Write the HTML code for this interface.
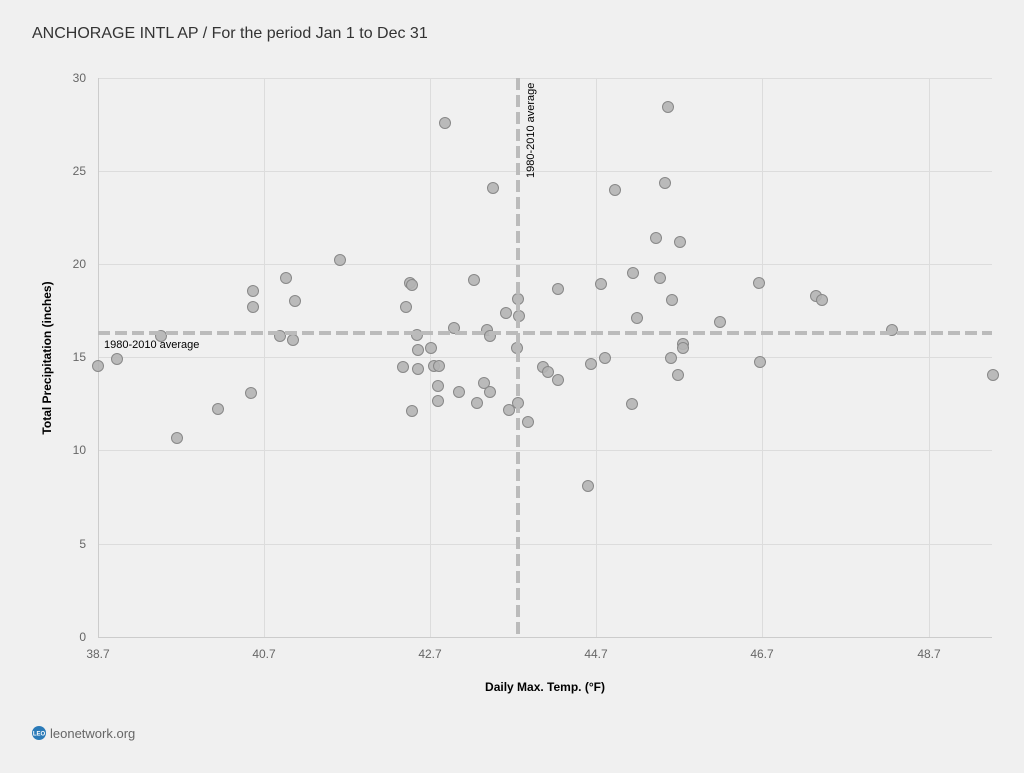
<!DOCTYPE html>
<html><head><meta charset="utf-8"><style>
body{margin:0;width:1024px;height:768px;background:#f0f0f0;font-family:"Liberation Sans",sans-serif;overflow:hidden}
</style></head><body>
<svg width="1024" height="768" xmlns="http://www.w3.org/2000/svg" font-family="Liberation Sans, sans-serif">
<rect width="1024" height="768" fill="#f0f0f0"/>
<text x="32" y="38" font-size="16" fill="#333">ANCHORAGE INTL AP / For the period Jan 1 to Dec 31</text>
<g stroke="#dcdcdc" stroke-width="1">
<line x1="98" y1="78.5" x2="992" y2="78.5"/>
<line x1="98" y1="171.5" x2="992" y2="171.5"/>
<line x1="98" y1="264.5" x2="992" y2="264.5"/>
<line x1="98" y1="357.5" x2="992" y2="357.5"/>
<line x1="98" y1="450.5" x2="992" y2="450.5"/>
<line x1="98" y1="544.5" x2="992" y2="544.5"/>
<line x1="264.5" y1="78" x2="264.5" y2="637"/>
<line x1="430.5" y1="78" x2="430.5" y2="637"/>
<line x1="596.5" y1="78" x2="596.5" y2="637"/>
<line x1="762.5" y1="78" x2="762.5" y2="637"/>
<line x1="929.5" y1="78" x2="929.5" y2="637"/>
</g>
<line x1="98" y1="637.5" x2="992" y2="637.5" stroke="#ccc"/>
<line x1="98.5" y1="78" x2="98.5" y2="637" stroke="#ccc"/>
<g font-size="12" fill="#666" text-anchor="end">
<text x="86" y="82">30</text><text x="86" y="175">25</text><text x="86" y="268">20</text><text x="86" y="361">15</text><text x="86" y="454">10</text><text x="86" y="548">5</text><text x="86" y="641">0</text>
</g>
<g font-size="12" fill="#666" text-anchor="middle">
<text x="98" y="658">38.7</text><text x="264" y="658">40.7</text><text x="430" y="658">42.7</text><text x="596" y="658">44.7</text><text x="762" y="658">46.7</text><text x="929" y="658">48.7</text>
</g>
<text x="545" y="691" font-size="12" font-weight="bold" text-anchor="middle" fill="#000">Daily Max. Temp. (°F)</text>
<text transform="translate(51,358) rotate(-90)" font-size="12" font-weight="bold" text-anchor="middle" fill="#000">Total Precipitation (inches)</text>
<g fill="#b4b4b4" fill-opacity="0.9" stroke="#888" stroke-width="1">
<circle cx="98" cy="366" r="5.5"/><circle cx="117" cy="359" r="5.5"/><circle cx="161" cy="336" r="5.5"/><circle cx="177" cy="438" r="5.5"/><circle cx="218" cy="409" r="5.5"/><circle cx="251" cy="393" r="5.5"/><circle cx="253" cy="291" r="5.5"/><circle cx="253" cy="307" r="5.5"/><circle cx="280" cy="336" r="5.5"/><circle cx="286" cy="278" r="5.5"/><circle cx="293" cy="340" r="5.5"/><circle cx="295" cy="301" r="5.5"/><circle cx="340" cy="260" r="5.5"/><circle cx="406" cy="307" r="5.5"/><circle cx="403" cy="367" r="5.5"/><circle cx="410" cy="283" r="5.5"/><circle cx="412" cy="285" r="5.5"/><circle cx="412" cy="411" r="5.5"/><circle cx="417" cy="335" r="5.5"/><circle cx="418" cy="350" r="5.5"/><circle cx="418" cy="369" r="5.5"/><circle cx="431" cy="348" r="5.5"/><circle cx="434" cy="366" r="5.5"/><circle cx="439" cy="366" r="5.5"/><circle cx="438" cy="386" r="5.5"/><circle cx="438" cy="401" r="5.5"/><circle cx="445" cy="123" r="5.5"/><circle cx="454" cy="328" r="5.5"/><circle cx="459" cy="392" r="5.5"/><circle cx="474" cy="280" r="5.5"/><circle cx="477" cy="403" r="5.5"/><circle cx="484" cy="383" r="5.5"/><circle cx="487" cy="330" r="5.5"/><circle cx="490" cy="336" r="5.5"/><circle cx="490" cy="392" r="5.5"/><circle cx="493" cy="188" r="5.5"/><circle cx="506" cy="313" r="5.5"/><circle cx="509" cy="410" r="5.5"/><circle cx="517" cy="348" r="5.5"/><circle cx="518" cy="299" r="5.5"/><circle cx="519" cy="316" r="5.5"/><circle cx="518" cy="403" r="5.5"/><circle cx="528" cy="422" r="5.5"/><circle cx="543" cy="367" r="5.5"/><circle cx="548" cy="372" r="5.5"/><circle cx="558" cy="289" r="5.5"/><circle cx="558" cy="380" r="5.5"/><circle cx="588" cy="486" r="5.5"/><circle cx="591" cy="364" r="5.5"/><circle cx="601" cy="284" r="5.5"/><circle cx="605" cy="358" r="5.5"/><circle cx="615" cy="190" r="5.5"/><circle cx="632" cy="404" r="5.5"/><circle cx="633" cy="273" r="5.5"/><circle cx="637" cy="318" r="5.5"/><circle cx="656" cy="238" r="5.5"/><circle cx="660" cy="278" r="5.5"/><circle cx="665" cy="183" r="5.5"/><circle cx="668" cy="107" r="5.5"/><circle cx="671" cy="358" r="5.5"/><circle cx="672" cy="300" r="5.5"/><circle cx="678" cy="375" r="5.5"/><circle cx="680" cy="242" r="5.5"/><circle cx="683" cy="344" r="5.5"/><circle cx="683" cy="348" r="5.5"/><circle cx="720" cy="322" r="5.5"/><circle cx="759" cy="283" r="5.5"/><circle cx="760" cy="362" r="5.5"/><circle cx="816" cy="296" r="5.5"/><circle cx="822" cy="300" r="5.5"/><circle cx="892" cy="330" r="5.5"/><circle cx="993" cy="375" r="5.5"/>
</g>
<line x1="98" y1="333" x2="992" y2="333" stroke="#bbb" stroke-width="4" stroke-dasharray="12,5"/>
<line x1="518" y1="78" x2="518" y2="637" stroke="#bbb" stroke-width="4" stroke-dasharray="12,5"/>
<text x="104" y="348" font-size="11" fill="#000">1980-2010 average</text>
<text transform="translate(534,178) rotate(-90)" font-size="11" fill="#000">1980-2010 average</text>
<circle cx="39" cy="733" r="7" fill="#2a7ab8"/>
<text x="39" y="735.5" font-size="6" fill="#fff" text-anchor="middle" font-weight="bold">LEO</text>
<text x="50" y="738" font-size="13" fill="#666">leonetwork.org</text>
</svg>
</body></html>
